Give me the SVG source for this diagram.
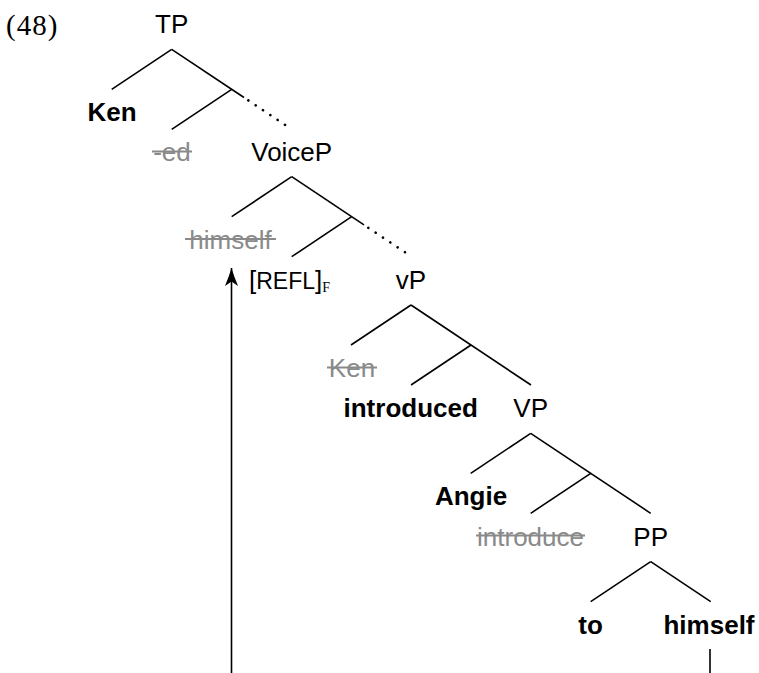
<svg xmlns="http://www.w3.org/2000/svg" width="759" height="673" viewBox="0 0 759 673">
<defs>
<style>
text{font-family:"Liberation Sans",Arial,sans-serif;font-size:26px;fill:#000}
.b{font-weight:bold}
.g{fill:#8a8a8a}
.m{text-anchor:middle}
.st{stroke:#8a8a8a;stroke-width:2}
.e{stroke:#000;stroke-width:1.6;fill:none}
.d{stroke:#000;stroke-width:2.6;fill:none;stroke-linecap:round;stroke-dasharray:0.1 8.7}
.num{font-family:"Liberation Serif","Times New Roman",serif;font-size:29px;letter-spacing:1px}
.sub{font-family:"Liberation Serif","Times New Roman",serif;font-size:14px;fill:#000}
</style>
<marker id="arr" markerUnits="userSpaceOnUse" viewBox="-20 -8 22 16" refX="0" refY="0" markerWidth="22" markerHeight="16" orient="auto" overflow="visible">
<path d="M0,0 C-5,-1.5 -12,-4 -18,-6.5 L-13.5,0 L-18,6.5 C-12,4 -5,1.5 0,0 Z" fill="#000" stroke="none"/>
</marker>
</defs>
<rect width="759" height="673" fill="#fff"/>
<text class="num" x="6" y="35">(48)</text>
<g id="connectors">
<line class="e" x1="171.7" y1="49.3" x2="111.7" y2="89.3"/>
<line class="e" x1="171.7" y1="49.3" x2="244" y2="97.5"/>
<line class="e" x1="231.7" y1="89.3" x2="171.7" y2="129.3"/>
<line class="d" x1="248.3" y1="100.4" x2="291.7" y2="129.3"/>
<line class="e" x1="291.7" y1="176.7" x2="231.7" y2="216.7"/>
<line class="e" x1="291.7" y1="176.7" x2="364" y2="224.9"/>
<line class="e" x1="351.7" y1="216.7" x2="291.7" y2="256.7"/>
<line class="d" x1="368.3" y1="227.8" x2="411.7" y2="256.7"/>
<line class="e" x1="411" y1="305" x2="351" y2="345"/>
<line class="e" x1="411" y1="305" x2="531" y2="385"/>
<line class="e" x1="471" y1="345" x2="411" y2="385"/>
<line class="e" x1="530.7" y1="433.3" x2="470.7" y2="473.3"/>
<line class="e" x1="530.7" y1="433.3" x2="650.7" y2="513.3"/>
<line class="e" x1="590.7" y1="473.3" x2="530.7" y2="513.3"/>
<line class="e" x1="650.7" y1="561.7" x2="590.7" y2="601.7"/>
<line class="e" x1="650.7" y1="561.7" x2="710.7" y2="601.7"/>
<line class="e" x1="710" y1="649" x2="710" y2="673"/>
<line class="e" x1="231.5" y1="673" x2="231.5" y2="268" marker-end="url(#arr)"/>
</g>
<g id="n-TP"><text class="m" x="171.7" y="33">TP</text></g>
<g id="n-Ken"><text class="m b" x="112" y="121">Ken</text></g>
<g id="n-ed"><text class="m g" x="172" y="160.5">-ed</text><line class="st" x1="152" y1="151.5" x2="192" y2="151.5"/></g>
<g id="n-VoiceP"><text class="m" x="291.7" y="160.5">VoiceP</text></g>
<g id="n-himself-trace"><text class="m g" x="230.5" y="248.5">himself</text><line class="st" x1="185" y1="239" x2="276" y2="239"/></g>
<g id="n-REFL"><text x="249" y="289">[<tspan font-size="23">REFL</tspan>]<tspan class="sub" dy="3">F</tspan></text></g>
<g id="n-vP"><text class="m" x="411" y="289">vP</text></g>
<g id="n-Ken-trace"><text class="m g" x="352" y="377">Ken</text><line class="st" x1="327" y1="367.5" x2="377" y2="367.5"/></g>
<g id="n-introduced"><text class="m b" x="410.7" y="417">introduced</text></g>
<g id="n-VP"><text class="m" x="530.7" y="417">VP</text></g>
<g id="n-Angie"><text class="m b" x="471" y="505">Angie</text></g>
<g id="n-introduce-trace"><text class="m g" x="530.5" y="545.5">introduce</text><line class="st" x1="476" y1="535.5" x2="585" y2="535.5"/></g>
<g id="n-PP"><text class="m" x="650.7" y="545.5">PP</text></g>
<g id="n-to"><text class="m b" x="590.5" y="633.5">to</text></g>
<g id="n-himself"><text class="m b" x="709" y="633.5">himself</text></g>
</svg>
